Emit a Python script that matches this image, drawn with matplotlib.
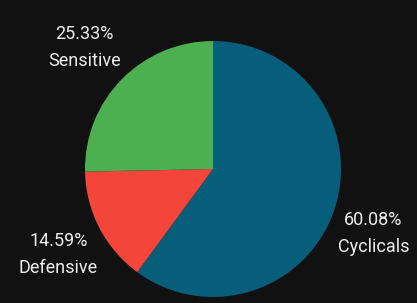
import numpy as np
import matplotlib
matplotlib.use("Agg")
import matplotlib.pyplot as plt

# sector data
sectors = ["Cyclicals", "Defensive", "Sensitive"]
shares = [60.08, 14.59, 25.33]
colors = ["#075e7b", "#f4453a", "#4caf50"]

bg = "#111111"
plt.rcParams['font.family'] = ['Roboto', 'DejaVu Sans']

fig = plt.figure(figsize=(4.17, 3.03), dpi=100, facecolor=bg)
ax = fig.add_axes([0, 0, 1, 1])
ax.set_facecolor(bg)

labels = ["%.2f%%\n%s" % (v, n) for n, v in zip(sectors, shares)]
wedges, texts = ax.pie(shares, colors=colors, labels=labels, startangle=90,
                       counterclock=False, radius=1.0, labeldistance=1.36,
                       wedgeprops=dict(linewidth=0),
                       textprops=dict(color="#eeeeee", fontsize=13,
                                      linespacing=1.65))
for t in texts:
    t.set_ha("center")
    t.set_va("center")
# nudge labels slightly clockwise, as in the original layout
nudge = {"Cyclicals": (-0.04, -0.08), "Defensive": (0.0, -0.04), "Sensitive": (-0.03, 0.0)}
for t, n in zip(texts, sectors):
    x, y = t.get_position()
    dx, dy = nudge[n]
    t.set_position((x + dx, y + dy))

# pie centre at (213, 169) px, radius 128 px
r = 128.0
ax.set_aspect("auto")
ax.set_xlim(-213 / r, (417 - 213) / r)
ax.set_ylim(-(303 - 169) / r, 169 / r)
ax.axis("off")

fig.savefig("out.png", dpi=100, facecolor=bg)
